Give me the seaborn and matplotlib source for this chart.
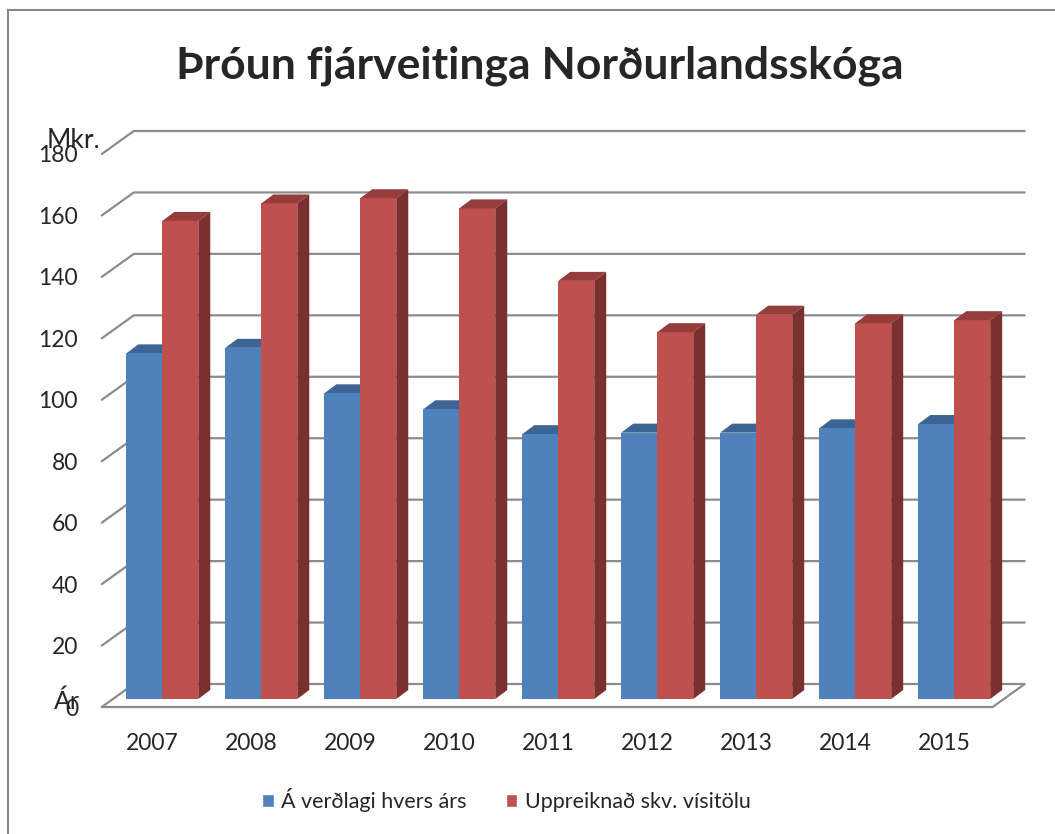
import pandas as pd
import matplotlib
matplotlib.use("Agg")
import matplotlib.pyplot as plt
import seaborn as sns
from matplotlib.patches import Polygon, Patch, Rectangle
from matplotlib.lines import Line2D
from matplotlib.transforms import ScaledTranslation

years = ["2007", "2008", "2009", "2010", "2011", "2012", "2013", "2014", "2015"]
verdlag = [112.5, 114.3, 99.5, 94.3, 86.2, 86.7, 86.7, 88.1, 89.5]
uppreiknad = [155.6, 161.3, 163.0, 159.7, 136.1, 119.4, 125.1, 122.3, 123.3]
series_names = ["Á verðlagi hvers árs", "Uppreiknað skv. vísitölu"]
y_ticks = list(range(0, 181, 20))

front_col = ["#4F81BD", "#C0504D"]
top_col = ["#3C6494", "#943D3A"]
side_col = ["#385D8A", "#7A302E"]
grid_col = "#8C8C8C"

sns.set_style("white")
plt.rcParams["font.family"] = ["Lato", "DejaVu Sans"]

df = pd.DataFrame({
    "Ár": years * 2,
    "Mkr": verdlag + uppreiknad,
    "Röð": [series_names[0]] * len(years) + [series_names[1]] * len(years),
})

W, H = 1055, 834
fig = plt.figure(figsize=(W / 100, H / 100), dpi=100)
ax = fig.add_axes([112.8 / W, 135 / H, 890.9 / W, 553 / H])
ax.patch.set_visible(False)

sns.barplot(data=df, x="Ár", y="Mkr", hue="Röð", palette=front_col, width=0.727,
            saturation=1, errorbar=None, legend=False, linewidth=0, zorder=3, ax=ax)
ax.set_xlim(-0.5, len(years) - 0.5)
ax.set_ylim(0, 180)
ax.set_autoscale_on(False)
for s in ax.spines.values():
    s.set_visible(False)
ax.set_xlabel("")
ax.set_ylabel("")

to_fig = fig.transFigure.inverted()


def fpt(x, y, dx=0, dy=0):
    X, Y = ax.transData.transform((x, y))
    return to_fig.transform((X + dx, Y + dy))


# depth offsets in pixels
bar_d = (12, 9)
floor_front = (-11, -8)
floor_back = (21, 15)
x0, x1 = ax.get_xlim()

# back wall gridlines with the slanted left segment
for v in y_ticks[1:]:
    pts = [fpt(x0, v, *floor_front), fpt(x0, v, *floor_back), fpt(x1, v, *floor_back)]
    xs, ys = zip(*pts)
    ax.add_line(Line2D(xs, ys, color=grid_col, lw=1.6, transform=fig.transFigure,
                       clip_on=False, zorder=1))

# floor outline
pts = [fpt(x0, 0, *floor_front), fpt(x1, 0, *floor_front), fpt(x1, 0, *floor_back),
       fpt(x0, 0, *floor_back), fpt(x0, 0, *floor_front)]
xs, ys = zip(*pts)
ax.add_line(Line2D(xs, ys, color=grid_col, lw=1.6, transform=fig.transFigure,
                   clip_on=False, zorder=1))

# 3D top and side faces built from the drawn bars
for i, cont in enumerate(ax.containers):
    for p in cont.patches:
        bx, bw, bh = p.get_x(), p.get_width(), p.get_height()
        top = [fpt(bx, bh), fpt(bx + bw, bh), fpt(bx + bw, bh, *bar_d), fpt(bx, bh, *bar_d)]
        ax.add_patch(Polygon(top, closed=True, facecolor=top_col[i], edgecolor="none",
                             transform=fig.transFigure, clip_on=False,
                             zorder=2.5 if i == 0 else 4))
        if i == len(ax.containers) - 1:
            side = [fpt(bx + bw, 0), fpt(bx + bw, bh), fpt(bx + bw, bh, *bar_d),
                    fpt(bx + bw, 0, *bar_d)]
            ax.add_patch(Polygon(side, closed=True, facecolor=side_col[i], edgecolor="none",
                                 transform=fig.transFigure, clip_on=False, zorder=4))

# tick labels sit on the front plane
ax.set_yticks(y_ticks)
ax.set_yticklabels([str(v) for v in y_ticks])
ax.tick_params(axis="y", length=0, pad=25, labelsize=16.5)
ax.tick_params(axis="x", length=0, pad=19, labelsize=16.5)
for lab in ax.get_yticklabels():
    lab.set_transform(lab.get_transform() + ScaledTranslation(0, -0.08, fig.dpi_scale_trans))
for lab in ax.get_xticklabels():
    lab.set_transform(lab.get_transform() + ScaledTranslation(-0.10, -0.08, fig.dpi_scale_trans))

fig.text(540 / W, 1 - 66 / H, "Þróun fjárveitinga Norðurlandsskóga",
         ha="center", va="center", fontsize=32, fontweight="bold")
fig.text(47 / W, 1 - 141 / H, "Mkr.", ha="left", va="center", fontsize=19)
fig.text(54 / W, 1 - 701 / H, "Ár", ha="left", va="center", fontsize=18)

handles = [Patch(facecolor=front_col[0], label=series_names[0]),
           Patch(facecolor=front_col[1], label=series_names[1])]
fig.legend(handles=handles, loc="center", bbox_to_anchor=(0.48, 1 - 800 / H), ncol=2,
           frameon=False, fontsize=15.5, handlelength=0.55, handleheight=0.55,
           handletextpad=0.35, columnspacing=1.8)

fig.add_artist(Rectangle((8 / W, -0.05), 1.1, 1 - 10 / H + 0.05, fill=False,
                         edgecolor="#888888", lw=1.5, transform=fig.transFigure))

fig.savefig("out.png", dpi=100)
